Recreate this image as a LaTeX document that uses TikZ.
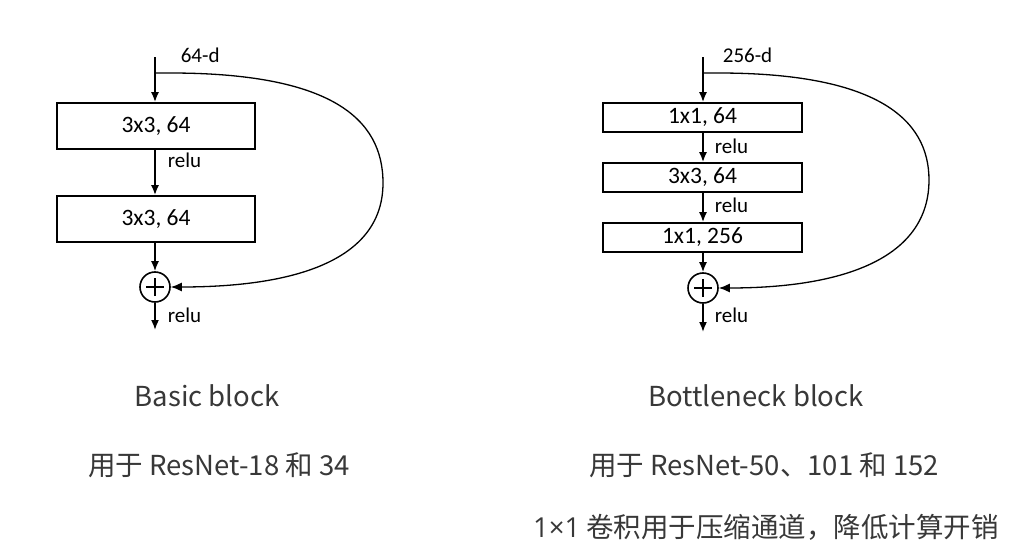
\documentclass[tikz,border=0pt]{standalone}
\usepackage{fontspec}
\setmainfont{Carlito}
\newfontfamily\cjk{Noto Sans CJK SC}
\newfontfamily\latn{Open Sans}
\usetikzlibrary{arrows.meta}
\begin{document}
\begin{tikzpicture}[x=1pt,y=-1pt,
  line width=1.7pt,
  blk/.style={draw, line width=1.7pt, minimum width=198pt, inner sep=0pt, font=\fontsize{23.5}{26}\selectfont},
  lbl/.style={font=\fontsize{21}{24}\selectfont, inner sep=0pt, anchor=west},
  plusnode/.style={draw, circle, minimum size=30pt, inner sep=0pt, line width=1.6pt,
    path picture={\draw[line width=1.6pt] ([xshift=-9pt]path picture bounding box.center) -- ([xshift=9pt]path picture bounding box.center)
      ([yshift=-9pt]path picture bounding box.center) -- ([yshift=9pt]path picture bounding box.center);}},
  arr/.style={-{Latex[length=10pt,width=8pt]}},
  skip/.style={line width=1.3pt, -{Latex[length=11pt,width=9pt]}},
  captxt/.style={font=\cjk\fontsize{27.5}{32}\selectfont, text=black!78, inner sep=0pt}
]
\useasboundingbox (0,0) rectangle (1021,554);
\fill[white] (0,0) rectangle (1021,554);

% ---------- Basic block ----------
\coordinate (Ltop) at (155,57);
\coordinate (Lsplit) at (155,73);
\node[blk, minimum height=46pt] (L1) at (156,126) {3x3, 64};
\node[blk, minimum height=46pt] (L2) at (156,219) {3x3, 64};
\node[plusnode] (Lp) at (155,287) {};
\coordinate (Lout) at (155,330);
\node[lbl] (Ld) at (180,55) {64-d};
\node[lbl] (Lr1) at (167,160) {relu};
\node[lbl] (Lr2) at (167,315) {relu};
\draw[arr] (Ltop) -- (Ltop |- L1.north);
\draw[arr] (L1.south -| Ltop) -- (L2.north -| Ltop);
\draw[arr] (L2.south -| Ltop) -- (Lp.north);
\draw[arr] (Lp.south) -- (Lout);
\draw[skip] (Lsplit) -- (170,73) .. controls (330,73) and (383,118) .. (383,183)
  .. controls (383,258) and (300,287) .. (Lp.east);

% ---------- Bottleneck block ----------
\coordinate (Rtop) at (703,57);
\coordinate (Rsplit) at (703,73);
\node[blk, minimum width=199pt, minimum height=29pt] (R1) at (702.5,117.5) {1x1, 64};
\node[blk, minimum width=199pt, minimum height=29pt] (R2) at (702.5,177.5) {3x3, 64};
\node[blk, minimum width=199pt, minimum height=29pt] (R3) at (702.5,237.5) {1x1, 256};
\node[plusnode] (Rp) at (703,288) {};
\coordinate (Rout) at (703,332);
\node[lbl] (Rd) at (722,55) {256-d};
\node[lbl] (Rr1) at (714,146) {relu};
\node[lbl] (Rr2) at (714,205) {relu};
\node[lbl] (Rr3) at (714,315) {relu};
\draw[arr] (Rtop) -- (Rtop |- R1.north);
\draw[arr] (R1.south -| Rtop) -- (R2.north -| Rtop);
\draw[arr] (R2.south -| Rtop) -- (R3.north -| Rtop);
\draw[arr] (R3.south -| Rtop) -- (Rp.north);
\draw[arr] (Rp.south) -- (Rout);
\draw[skip] (Rsplit) -- (718,73) .. controls (875,73) and (929,118) .. (929,180)
  .. controls (929,255) and (850,288) .. (Rp.east);

% ---------- captions ----------
\node[captxt] (c1) at (207,396) {Basic block};
\node[captxt] (c2) at (219,465) {用于 ResNet-18 和 34};
\node[captxt] (c3) at (756,396) {Bottleneck block};
\node[captxt] (c4) at (764,465) {用于 ResNet-50、101 和 152};
\node[captxt] (c5) at (766,527) {{\latn 1×1} 卷积用于压缩通道，降低计算开销};
\end{tikzpicture}
\end{document}
